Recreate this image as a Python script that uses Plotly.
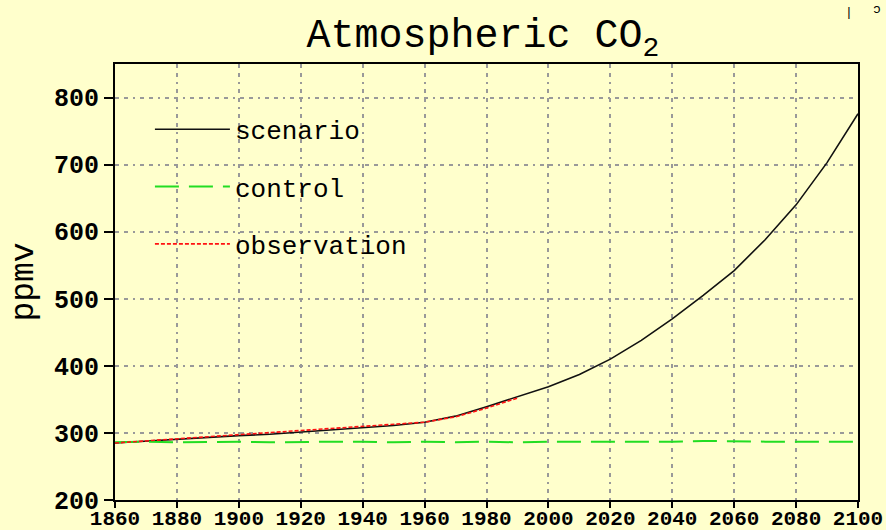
import plotly.graph_objects as go

# ── Data ─────────────────────────────────────────────────────────────────────
years = [1860, 1870, 1880, 1890, 1900, 1910, 1920, 1930, 1940, 1950, 1960,
         1970, 1980, 1990, 2000, 2010, 2020, 2030, 2040, 2050, 2060, 2070,
         2080, 2090, 2100]
scenario = [285, 288, 291, 293, 296, 298, 301, 305, 308, 311, 316,
            325, 339, 354, 369, 387, 410, 438, 470, 505, 542, 588,
            640, 703, 776]
control = [286, 287, 286, 287, 287, 286, 287, 287, 287, 286, 287,
           286, 287, 286, 287, 287, 286, 287, 287, 288, 287, 287,
           287, 287, 287]

obs_years = [1860, 1870, 1880, 1890, 1900, 1910, 1920, 1930, 1940, 1950,
             1960, 1970, 1980, 1990]
observation = [285, 288, 291, 294, 297, 300, 303, 307, 310, 312,
               316, 324, 337, 352]

x_ticks = list(range(1860, 2101, 20))
y_ticks = list(range(200, 801, 100))

BG = "#FFFFCC"
FONT = "Liberation Mono"

fig = go.Figure()
fig.add_trace(go.Scatter(
    x=years, y=scenario, mode="lines", name="scenario",
    line=dict(color="#111111", width=1.6), legendgroup="a",
))
fig.add_trace(go.Scatter(
    x=years, y=control, mode="lines", name="control",
    line=dict(color="#22dd22", width=2, dash="24px,10px"), legendgroup="b",
))
fig.add_trace(go.Scatter(
    x=obs_years, y=observation, mode="lines", name="observation",
    line=dict(color="#ff1111", width=1.6, dash="4px,2px"), legendgroup="c",
))

grid_dash = "4px,5px,4px,5px,2px,5px"
fig.update_layout(
    width=886, height=530,
    paper_bgcolor=BG, plot_bgcolor=BG,
    margin=dict(l=115, r=28, t=64, b=30),
    title=dict(text="Atmospheric CO<sub>2</sub>", x=0.545, xanchor="center",
               y=0.937, yanchor="middle",
               font=dict(family=FONT, size=40, color="#000000")),
    font=dict(family=FONT, color="#000000"),
    xaxis=dict(range=[1860, 2100], tickvals=x_ticks, ticks="outside",
               ticklen=6, tickwidth=2, tickcolor="#000000",
               ticklabelstandoff=-8,
               showline=True, linecolor="#000000", linewidth=2, mirror=True,
               showgrid=True, gridcolor="#999999", gridwidth=1.5,
               griddash=grid_dash, zeroline=False, automargin=False,
               tickfont=dict(family=FONT, size=21, weight="bold")),
    yaxis=dict(range=[200, 850], tickvals=y_ticks, ticks="outside",
               ticklen=9, tickwidth=2, tickcolor="#000000",
               showline=True, linecolor="#000000", linewidth=2, mirror=True,
               showgrid=True, gridcolor="#999999", gridwidth=1.5,
               griddash=grid_dash, zeroline=False, automargin=False,
               title=dict(text="ppmv", standoff=10,
                          font=dict(family=FONT, size=33)),
               tickfont=dict(family=FONT, size=25, weight="bold")),
    legend=dict(x=0.047, y=0.904, xanchor="left", yanchor="top",
                bgcolor="rgba(0,0,0,0)", borderwidth=0,
                font=dict(family=FONT, size=26, color="#000000"),
                itemwidth=75, traceorder="grouped", tracegroupgap=20.5),
    showlegend=True,
)
# two stray marks at the top-right corner of the original image
fig.add_annotation(text="|", x=(849 - 115) / 743, y=1 + (64 - 13) / 436,
                   xref="paper", yref="paper", showarrow=False,
                   xanchor="center", yanchor="middle",
                   font=dict(size=13, color="#000000"))
fig.add_annotation(text="ɔ", x=(877 - 115) / 743, y=1 + (64 - 10) / 436,
                   xref="paper", yref="paper", showarrow=False,
                   xanchor="center", yanchor="middle",
                   font=dict(size=13, color="#000000"))

fig.write_html("out.html", config={"displayModeBar": False},
               post_script="document.body.style.margin='0px';")
